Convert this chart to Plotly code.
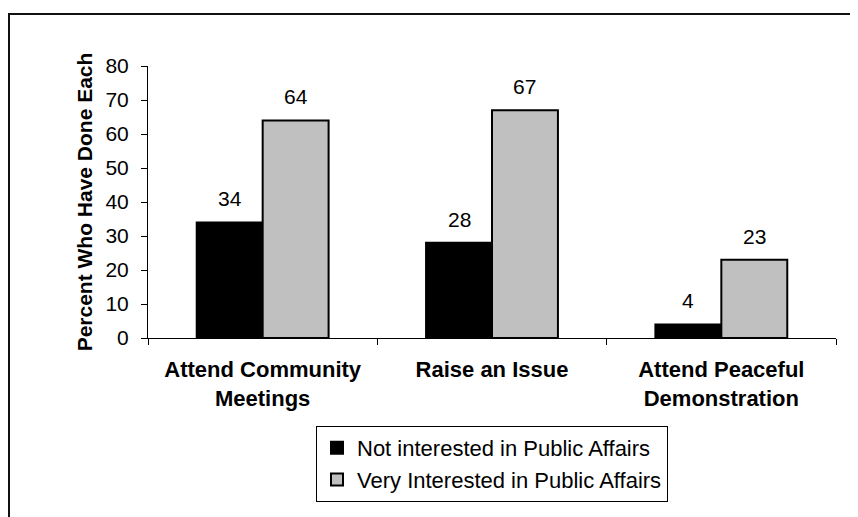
import plotly.graph_objects as go

categories = ["Attend Community<br>Meetings", "Raise an Issue", "Attend Peaceful<br>Demonstration"]
series_names = ["Not interested in Public Affairs", "Very Interested in Public Affairs"]
not_interested = [34, 28, 4]
very_interested = [64, 67, 23]
y_ticks = [0, 10, 20, 30, 40, 50, 60, 70, 80]

OFF = 8  # page body margin offset
W, H = 858 - OFF, 517 - OFF
ML, MR, MT, MB = 148 - OFF, 22, 66 - OFF, 179
PW, PH = W - ML - MR, H - MT - MB
BARGAP = 0.425
FONT = "Liberation Sans, Arial, sans-serif"

fig = go.Figure()
colors = ["#000000", "#C0C0C0"]
for name, vals, col in zip(series_names, [not_interested, very_interested], colors):
    fig.add_trace(go.Bar(
        name=name, x=categories, y=vals,
        marker=dict(color=col, line=dict(color="#000000", width=2)),
    ))

# data labels above bars
cat_w = PW / len(categories)
bar_w = cat_w * (1 - BARGAP) / 2
for si, vals in enumerate([not_interested, very_interested]):
    shift = (si - 0.5) * bar_w
    for c, v in zip(categories, vals):
        fig.add_annotation(x=c, y=v, text=str(v), showarrow=False,
                           xshift=shift, yshift=10, yanchor="bottom",
                           font=dict(family=FONT, size=21, color="#000000"))

# outer chart border (top/left visible, extends beyond image)
fig.add_shape(type="rect", xref="paper", yref="paper",
              x0=(1 - ML) / PW, x1=(W + 20 - ML) / PW,
              y0=(MT + PH - (H + 20)) / PH, y1=(MT + PH - 6) / PH,
              line=dict(color="#111111", width=2), layer="below")

fig.update_layout(
    width=W, height=H,
    margin=dict(l=ML, r=MR, t=MT, b=MB, autoexpand=False),
    paper_bgcolor="white", plot_bgcolor="white",
    barmode="group", bargap=BARGAP, bargroupgap=0,
    font=dict(family=FONT, size=21, color="#000000"),
    showlegend=True,
    legend=dict(x=0.5, xanchor="center", y=(PH - (426 - 66)) / PH, yanchor="top",
                bordercolor="#000000", borderwidth=1,
                font=dict(family=FONT, size=22, color="#000000"),
                traceorder="normal"),
    xaxis=dict(
        automargin=False,
        tickson="boundaries", ticks="outside", ticklen=6, tickcolor="#000000",
        showline=True, linecolor="#000000", linewidth=1,
        tickfont=dict(family=FONT, size=22, color="#000000", weight="bold"),
        ticklabelstandoff=12,
    ),
    yaxis=dict(
        automargin=False,
        range=[0, 80], tickvals=y_ticks, ticks="outside", ticklen=6,
        tickcolor="#000000", showline=True, linecolor="#000000", linewidth=1,
        showgrid=False, zeroline=False,
        tickfont=dict(family=FONT, size=21, color="#000000"),
        ticklabelstandoff=8,
        title=dict(text="Percent Who Have Done Each", standoff=7,
                   font=dict(family=FONT, size=21, color="#000000", weight="bold")),
    ),
)

fig.write_html("out.html")
